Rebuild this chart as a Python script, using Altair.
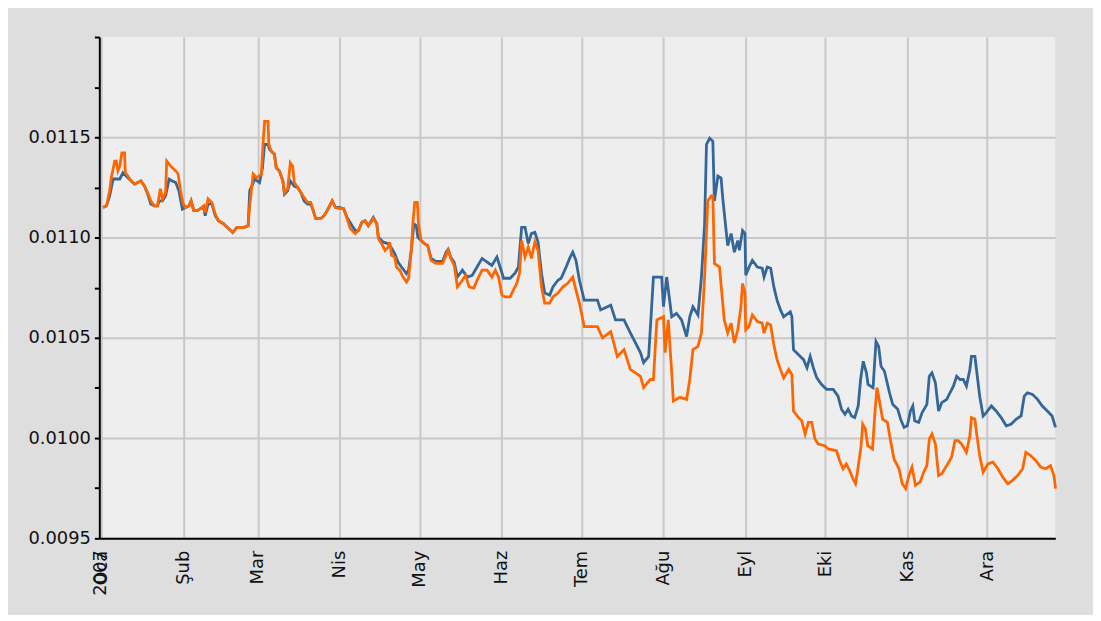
import altair as alt
import pandas as pd

# ---- data (x = day of year 2007, y = rate) ----
orange_day = [0.7, 2.0, 3.2, 3.8, 4.5, 5.1, 5.7, 6.3, 7.0, 7.8, 8.8, 9.1, 10.1, 11.3, 12.6, 13.8, 15.0, 16.3, 17.5, 18.7, 20.0, 21.2, 22.3, 23.1, 24.3, 24.7, 26.2, 28.1, 29.0, 29.9, 30.9, 31.8, 33.1, 33.9, 34.9, 36.2, 37.4, 38.7, 39.2, 40.3, 41.7, 43.0, 44.2, 46.1, 48.0, 49.6, 51.1, 53.6, 55.4, 56.0, 57.3, 58.5, 60.4, 61.0, 61.6, 62.9, 63.2, 64.1, 65.3, 66.0, 67.2, 68.5, 69.1, 70.3, 71.3, 72.2, 72.8, 74.1, 75.3, 76.5, 77.8, 79.0, 79.7, 80.9, 82.7, 84.0, 85.2, 87.1, 88.3, 89.6, 91.4, 92.7, 93.9, 95.8, 97.0, 98.3, 99.5, 100.7, 102.6, 103.9, 104.5, 105.7, 107.0, 108.2, 108.8, 109.5, 110.7, 111.3, 112.6, 113.8, 115.1, 115.9, 116.9, 117.5, 118.2, 119.2, 119.6, 120.6, 121.9, 123.1, 124.4, 126.2, 128.7, 130.0, 130.8, 131.8, 133.1, 134.3, 136.2, 137.4, 138.7, 140.5, 141.7, 143.6, 145.5, 147.3, 148.6, 149.8, 151.1, 152.3, 154.2, 155.4, 156.7, 157.7, 158.5, 159.8, 161.0, 162.2, 163.5, 164.7, 166.0, 167.2, 169.1, 170.3, 172.2, 174.1, 175.9, 177.8, 179.0, 180.3, 182.1, 187.1, 189.0, 192.1, 194.6, 197.1, 199.5, 203.3, 204.5, 207.0, 208.2, 209.5, 212.0, 212.6, 213.8, 215.1, 215.7, 218.2, 220.7, 221.9, 223.1, 225.0, 226.3, 227.5, 228.7, 230.0, 230.6, 231.2, 233.1, 234.9, 236.2, 237.5, 238.7, 240.0, 241.2, 241.8, 242.7, 243.0, 244.2, 245.5, 247.4, 249.2, 249.9, 251.1, 252.4, 253.6, 254.8, 256.1, 257.3, 259.2, 260.4, 261.0, 262.9, 264.1, 265.4, 266.6, 267.9, 269.1, 270.3, 272.8, 274.1, 277.2, 278.4, 279.7, 280.9, 282.2, 283.4, 284.4, 285.2, 286.5, 287.1, 288.1, 289.0, 290.8, 291.8, 292.5, 293.3, 294.6, 296.4, 297.7, 298.9, 300.8, 302.0, 303.3, 304.5, 305.7, 307.0, 308.8, 310.1, 311.3, 312.2, 313.2, 314.5, 315.7, 316.9, 318.8, 320.6, 321.9, 323.1, 324.4, 326.2, 327.5, 328.1, 329.4, 330.0, 331.2, 332.5, 334.3, 336.2, 338.1, 339.9, 341.8, 343.6, 345.5, 347.4, 348.6, 350.5, 352.3, 354.2, 356.1, 357.9, 359.2, 359.8]
orange_val = [0.011150, 0.011158, 0.011233, 0.011299, 0.011342, 0.011381, 0.011381, 0.011332, 0.011356, 0.011422, 0.011422, 0.011323, 0.011307, 0.011282, 0.011267, 0.011274, 0.011282, 0.011257, 0.011224, 0.011183, 0.011158, 0.011158, 0.011243, 0.011193, 0.011224, 0.011381, 0.011356, 0.011332, 0.011317, 0.011233, 0.011168, 0.011150, 0.011158, 0.011183, 0.011134, 0.011134, 0.011144, 0.011158, 0.011125, 0.011193, 0.011175, 0.011117, 0.011084, 0.011069, 0.011045, 0.011025, 0.011050, 0.011050, 0.011059, 0.011158, 0.011317, 0.011299, 0.011315, 0.011465, 0.011579, 0.011579, 0.011465, 0.011431, 0.011416, 0.011348, 0.011332, 0.011282, 0.011224, 0.011243, 0.011373, 0.011356, 0.011274, 0.011249, 0.011224, 0.011200, 0.011175, 0.011175, 0.011144, 0.011094, 0.011094, 0.011109, 0.011134, 0.011183, 0.011150, 0.011144, 0.011144, 0.011094, 0.011045, 0.011020, 0.011035, 0.011076, 0.011084, 0.011059, 0.011094, 0.011069, 0.010995, 0.010970, 0.010936, 0.010952, 0.010977, 0.010911, 0.010903, 0.010853, 0.010837, 0.010803, 0.010779, 0.010797, 0.010936, 0.011069, 0.011175, 0.011175, 0.011069, 0.010985, 0.010970, 0.010960, 0.010886, 0.010871, 0.010871, 0.010911, 0.010936, 0.010896, 0.010861, 0.010754, 0.010787, 0.010812, 0.010754, 0.010748, 0.010787, 0.010837, 0.010837, 0.010803, 0.010837, 0.010803, 0.010713, 0.010704, 0.010704, 0.010738, 0.010772, 0.010822, 0.010985, 0.010903, 0.010952, 0.010896, 0.010977, 0.010936, 0.010754, 0.010673, 0.010673, 0.010704, 0.010723, 0.010754, 0.010772, 0.010803, 0.010738, 0.010672, 0.010556, 0.010556, 0.010500, 0.010531, 0.010407, 0.010441, 0.010342, 0.010308, 0.010252, 0.010292, 0.010292, 0.010589, 0.010605, 0.010426, 0.010589, 0.010327, 0.010185, 0.010203, 0.010193, 0.010292, 0.010441, 0.010457, 0.010525, 0.010803, 0.011183, 0.011208, 0.011208, 0.010871, 0.010853, 0.010589, 0.010525, 0.010573, 0.010474, 0.010540, 0.010655, 0.010771, 0.010723, 0.010540, 0.010556, 0.010614, 0.010581, 0.010573, 0.010523, 0.010573, 0.010564, 0.010465, 0.010391, 0.010342, 0.010300, 0.010342, 0.010317, 0.010135, 0.010102, 0.010086, 0.010020, 0.010078, 0.010078, 0.009995, 0.009970, 0.009962, 0.009946, 0.009937, 0.009888, 0.009847, 0.009871, 0.009838, 0.009797, 0.009772, 0.009838, 0.009962, 0.010069, 0.010045, 0.009962, 0.009946, 0.010144, 0.010251, 0.010193, 0.010094, 0.010078, 0.009979, 0.009896, 0.009847, 0.009772, 0.009748, 0.009813, 0.009855, 0.009764, 0.009781, 0.009830, 0.009863, 0.009995, 0.010020, 0.009970, 0.009813, 0.009822, 0.009863, 0.009904, 0.009987, 0.009987, 0.009970, 0.009929, 0.010011, 0.010102, 0.010094, 0.010028, 0.009912, 0.009830, 0.009871, 0.009880, 0.009847, 0.009805, 0.009772, 0.009789, 0.009813, 0.009847, 0.009929, 0.009912, 0.009888, 0.009855, 0.009847, 0.009863, 0.009813, 0.009748]

blue_day = [0.7, 2.0, 3.2, 4.5, 5.7, 7.0, 8.2, 9.4, 11.3, 12.6, 13.8, 15.0, 16.3, 17.5, 18.7, 20.0, 21.2, 21.9, 23.1, 24.3, 25.6, 26.8, 28.1, 29.3, 30.6, 31.8, 33.1, 33.9, 34.9, 36.2, 37.4, 38.7, 39.2, 40.3, 41.7, 43.0, 44.2, 46.1, 48.0, 49.6, 51.1, 53.6, 55.4, 56.0, 57.9, 59.7, 60.8, 61.6, 62.9, 63.5, 65.3, 66.0, 67.2, 68.5, 69.1, 70.3, 71.3, 72.8, 74.1, 75.3, 76.5, 77.8, 79.0, 79.7, 80.9, 82.7, 84.0, 85.2, 87.1, 88.3, 89.6, 91.4, 92.7, 94.6, 95.8, 97.0, 98.3, 99.5, 100.7, 102.6, 103.9, 104.5, 106.4, 108.2, 109.5, 110.7, 111.9, 113.2, 115.1, 115.9, 116.9, 117.9, 118.8, 119.4, 120.6, 121.9, 123.1, 124.4, 126.2, 128.7, 130.0, 130.8, 131.8, 133.1, 134.3, 136.2, 138.0, 139.9, 141.7, 143.6, 145.5, 147.3, 149.2, 150.4, 151.7, 154.2, 156.0, 157.3, 158.5, 159.8, 161.0, 162.2, 163.5, 164.7, 166.0, 167.2, 169.1, 170.3, 172.2, 173.4, 175.3, 176.6, 177.8, 179.0, 180.3, 182.1, 187.1, 188.3, 192.1, 193.9, 197.1, 199.5, 203.3, 204.5, 206.4, 208.2, 211.3, 212.0, 213.2, 215.1, 216.9, 218.8, 220.7, 221.9, 223.1, 225.0, 226.3, 227.5, 228.2, 229.4, 230.6, 231.2, 232.5, 233.7, 234.3, 235.6, 236.2, 237.5, 238.7, 240.0, 240.6, 241.8, 242.7, 243.0, 244.2, 245.5, 247.4, 249.2, 249.9, 251.1, 252.4, 253.6, 254.8, 256.1, 257.3, 259.8, 260.4, 261.0, 262.9, 264.8, 266.1, 267.3, 268.5, 269.8, 271.6, 273.5, 276.0, 277.8, 279.1, 280.4, 281.6, 282.9, 284.1, 285.4, 286.3, 287.3, 288.5, 289.1, 291.0, 292.1, 293.1, 294.0, 295.3, 297.2, 298.4, 300.3, 301.4, 302.7, 303.9, 305.1, 306.0, 306.7, 308.2, 309.5, 311.3, 312.2, 313.2, 314.5, 315.7, 316.9, 318.8, 320.0, 321.3, 322.5, 323.8, 325.0, 326.2, 327.5, 328.1, 329.4, 330.0, 331.2, 332.5, 333.7, 335.6, 337.4, 339.3, 341.2, 343.0, 344.9, 346.8, 348.0, 349.2, 351.1, 353.0, 354.8, 356.7, 358.5, 359.8]
blue_val = [0.011150, 0.011158, 0.011208, 0.011292, 0.011292, 0.011292, 0.011323, 0.011307, 0.011282, 0.011267, 0.011274, 0.011282, 0.011257, 0.011218, 0.011167, 0.011158, 0.011158, 0.011183, 0.011183, 0.011208, 0.011291, 0.011282, 0.011274, 0.011233, 0.011142, 0.011150, 0.011158, 0.011183, 0.011134, 0.011134, 0.011144, 0.011149, 0.011109, 0.011168, 0.011168, 0.011109, 0.011084, 0.011069, 0.011045, 0.011025, 0.011050, 0.011050, 0.011059, 0.011233, 0.011291, 0.011274, 0.011348, 0.011464, 0.011464, 0.011439, 0.011416, 0.011348, 0.011332, 0.011282, 0.011216, 0.011233, 0.011282, 0.011257, 0.011249, 0.011224, 0.011183, 0.011167, 0.011167, 0.011144, 0.011094, 0.011094, 0.011109, 0.011134, 0.011183, 0.011150, 0.011150, 0.011144, 0.011100, 0.011059, 0.011035, 0.011035, 0.011076, 0.011084, 0.011059, 0.011100, 0.011069, 0.011001, 0.010977, 0.010969, 0.010946, 0.010919, 0.010878, 0.010853, 0.010820, 0.010837, 0.010936, 0.011068, 0.011059, 0.011001, 0.010985, 0.010970, 0.010960, 0.010896, 0.010881, 0.010881, 0.010926, 0.010941, 0.010901, 0.010876, 0.010803, 0.010837, 0.010803, 0.010812, 0.010853, 0.010896, 0.010878, 0.010861, 0.010903, 0.010853, 0.010797, 0.010797, 0.010822, 0.010853, 0.011051, 0.011051, 0.010970, 0.011020, 0.011026, 0.010977, 0.010822, 0.010723, 0.010713, 0.010754, 0.010787, 0.010797, 0.010853, 0.010896, 0.010927, 0.010886, 0.010787, 0.010688, 0.010688, 0.010639, 0.010663, 0.010589, 0.010589, 0.010525, 0.010426, 0.010376, 0.010407, 0.010803, 0.010803, 0.010655, 0.010803, 0.010605, 0.010622, 0.010589, 0.010506, 0.010605, 0.010655, 0.010614, 0.010803, 0.011069, 0.011465, 0.011495, 0.011480, 0.011183, 0.011307, 0.011297, 0.011200, 0.011035, 0.010960, 0.011020, 0.010927, 0.010985, 0.010936, 0.011035, 0.011020, 0.010812, 0.010851, 0.010886, 0.010853, 0.010847, 0.010803, 0.010853, 0.010847, 0.010754, 0.010688, 0.010639, 0.010605, 0.010630, 0.010605, 0.010441, 0.010416, 0.010391, 0.010350, 0.010407, 0.010350, 0.010300, 0.010267, 0.010243, 0.010243, 0.010209, 0.010144, 0.010119, 0.010144, 0.010110, 0.010102, 0.010160, 0.010292, 0.010383, 0.010325, 0.010267, 0.010251, 0.010482, 0.010457, 0.010358, 0.010333, 0.010226, 0.010168, 0.010144, 0.010094, 0.010053, 0.010061, 0.010135, 0.010160, 0.010086, 0.010078, 0.010127, 0.010168, 0.010308, 0.010325, 0.010276, 0.010135, 0.010177, 0.010193, 0.010226, 0.010259, 0.010308, 0.010292, 0.010292, 0.010259, 0.010342, 0.010407, 0.010407, 0.010342, 0.010209, 0.010110, 0.010127, 0.010160, 0.010135, 0.010102, 0.010061, 0.010069, 0.010094, 0.010110, 0.010209, 0.010226, 0.010218, 0.010193, 0.010160, 0.010135, 0.010110, 0.010053]

month_days = [0, 31, 59, 90, 120, 151, 181, 212, 243, 273, 304, 334]
month_names = ["Oca", "Şub", "Mar", "Nis", "May", "Haz", "Tem", "Ağu", "Eyl", "Eki", "Kas", "Ara"]
year_label = "2007"
y_ticks = [0.0095, 0.00975, 0.0100, 0.01025, 0.0105, 0.01075, 0.0110, 0.01125, 0.0115, 0.01175, 0.0120]
y_labelled = [0.0095, 0.0100, 0.0105, 0.0110, 0.0115]

BLUE = "#336699"
ORANGE = "#FF6600"
FONT = "DejaVu Sans"
FS = 18
W, H = 963, 505

blue_df = pd.DataFrame({"day": blue_day, "value": blue_val})
orange_df = pd.DataFrame({"day": orange_day, "value": orange_val})
year_df = pd.DataFrame({"day": [month_days[0]], "label": [year_label]})

names_js = "[" + ",".join("'%s'" % n for n in month_names) + "]"
days_js = "[" + ",".join(str(d) for d in month_days) + "]"
x_label_expr = f"{names_js}[indexof({days_js}, datum.value)]"
major_js = "[" + ",".join(str(round(v * 100000)) for v in y_labelled) + "]"
major = f"indexof({major_js}, round(datum.value * 100000)) >= 0"

x_enc = alt.X(
    "day:Q",
    scale=alt.Scale(domain=[-0.7, 359.7], nice=False, zero=False),
    axis=alt.Axis(
        values=month_days,
        labelExpr=x_label_expr,
        labelAngle=270,
        labelFont=FONT,
        labelFontSize=FS,
        labelColor="#111111",
        labelPadding=12,
        labelOverlap=False,
        ticks=False,
        domainColor="#000000",
        domainWidth=2,
        gridColor="#C8C8C8",
        gridWidth=2,
        title=None,
    ),
)
y_enc = alt.Y(
    "value:Q",
    scale=alt.Scale(domain=[0.0095, 0.0120], nice=False, zero=False),
    axis=alt.Axis(
        values=y_ticks,
        labelExpr=f"({major}) ? format(datum.value, '.4f') : ''",
        labelFont=FONT,
        labelFontSize=FS,
        labelColor="#111111",
        labelPadding=4,
        labelOverlap=False,
        tickColor="#000000",
        tickSize=5,
        tickWidth=2,
        domainColor="#000000",
        domainWidth=2,
        gridColor="#C8C8C8",
        gridWidth=2,
        gridOpacity={"condition": {"test": major, "value": 1}, "value": 0},
        title=None,
    ),
)

blue_line = alt.Chart(blue_df).mark_line(color=BLUE, strokeWidth=2.8).encode(x=x_enc, y=y_enc)
orange_line = alt.Chart(orange_df).mark_line(color=ORANGE, strokeWidth=2.8).encode(x="day:Q", y="value:Q")
year_text = alt.Chart(year_df).mark_text(
    angle=270, align="right", baseline="middle", font=FONT, fontSize=FS, color="#111111"
).encode(x="day:Q", y=alt.value(H + 12), text="label:N")

chart = (
    alt.layer(blue_line, orange_line, year_text)
    .properties(
        width=W,
        height=H,
        background="#DEDEDE",
        padding={"left": 92, "top": 27, "right": 38, "bottom": 75},
        autosize=alt.AutoSizeParams(type="none"),
    )
    .configure_view(fill="#EEEEEE", stroke=None)
)

chart.save("out.html", embed_options={"renderer": "svg", "actions": False})
